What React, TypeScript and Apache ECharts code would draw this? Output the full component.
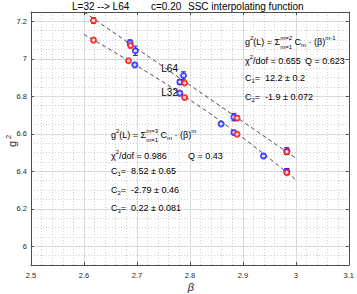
import React, { useEffect, useRef } from 'react';
import * as echarts from 'echarts';

// ---- axes ----
const xMin = 2.5;
const xMax = 3.1;
const yMin = 5.9;
const yMax = 7.25;

// ---- data ----
const redBeta = [2.618, 2.618, 2.688, 2.684, 2.790, 2.790, 2.889, 2.889, 2.983, 2.983];
const redG2 = [7.205, 7.100, 7.071, 6.990, 6.871, 6.794, 6.684, 6.598, 6.504, 6.393];
const redErr = [0.015, 0.008, 0.012, 0.008, 0.008, 0.008, 0.012, 0.008, 0.014, 0.010];

const blueBeta = [2.687, 2.697, 2.696, 2.788, 2.781, 2.781, 2.883, 2.859, 2.883, 2.939, 2.983, 2.983];
const blueG2 = [7.086, 7.043, 6.968, 6.911, 6.876, 6.817, 6.689, 6.653, 6.607, 6.482, 6.508, 6.400];
const blueErr = [0.015, 0.025, 0.006, 0.02, 0.012, 0.006, 0.02, 0.006, 0.006, 0.01, 0.018, 0.015];

const fitL64Beta = [2.6, 3.0];
const fitL64G2 = [7.25, 6.47];
const fitL32Beta = [2.6, 2.69, 2.79, 2.89, 3.0];
const fitL32G2 = [7.13, 6.98, 6.80, 6.60, 6.355];

// ---- texts ----
const titleParts = ['L=32 --> L64', 'c=0.20', 'SSC interpolating function'];
const upperChi = '/dof = 0.655 ';
const upperQ = 'Q = 0.623';
const upperC = ['=  12.2 ± 0.2', '=  -1.9 ± 0.072'];
const lowerChi = '/dof = 0.986';
const lowerQ = 'Q = 0.43';
const lowerC = ['=  8.52 ± 0.65', '=  -2.79 ± 0.46', '=  0.22 ± 0.081'];

const FONT = "'Liberation Sans', Arial, Helvetica, sans-serif";
let measureCtx: CanvasRenderingContext2D | null = null;
function textWidth(t: string, size: number): number {
  if (!measureCtx) measureCtx = document.createElement('canvas').getContext('2d');
  measureCtx!.font = `${size}px ${FONT}`;
  return measureCtx!.measureText(t).width;
}
const nb = (t: string) => t.replace(/ /g, '\u00a0');

function T(x: number, y: number, text: string, size: number, extra: any = {}) {
  return {
    type: 'text',
    x,
    y,
    silent: true,
    z: 100,
    style: {
      text: nb(text),
      fontSize: size,
      fontFamily: FONT,
      fill: '#000',
      textAlign: 'left',
      textVerticalAlign: 'middle',
      ...extra,
    },
  };
}

type Piece = { t?: string; s?: number; dy?: number; stack?: [string, string] };
function buildLine(x0: number, y: number, pieces: Piece[], base = 9) {
  const out: any[] = [];
  let x = x0;
  for (const p of pieces) {
    if (p.stack) {
      const s = p.s ?? 6;
      out.push(T(x, y - 4, p.stack[0], s));
      out.push(T(x, y + 4.5, p.stack[1], s));
      x += Math.max(textWidth(nb(p.stack[0]), s), textWidth(nb(p.stack[1]), s));
    } else {
      const s = p.s ?? base;
      out.push(T(x, y + (p.dy ?? 0), p.t!, s));
      x += textWidth(nb(p.t!), s);
    }
  }
  return out;
}

const SUP = { s: 6, dy: -4 };
const SUB = { s: 6, dy: 3 };

function buildGraphics() {
  const g: any[] = [];
  // title
  g.push(T(72, 6, titleParts[0], 10));
  g.push(T(151, 6, titleParts[1], 10));
  g.push(T(188, 6, titleParts[2], 10));

  // upper block
  const ux = 245;
  g.push(
    ...buildLine(ux, 42, [
      { t: 'g' }, { t: '2', ...SUP }, { t: '(L) = Σ' }, { stack: ['m=2', 'm=1'] },
      { t: ' C' }, { t: 'm', ...SUB }, { t: ' · (β)' }, { t: 'm-1', ...SUP },
    ])
  );
  g.push(...buildLine(ux, 61, [{ t: 'χ' }, { t: '2', ...SUP }, { t: upperChi }]));
  g.push(T(305, 61, upperQ, 9));
  g.push(...buildLine(ux, 78, [{ t: 'C' }, { t: '1', ...SUB }, { t: upperC[0] }]));
  g.push(...buildLine(ux, 97, [{ t: 'C' }, { t: '2', ...SUB }, { t: upperC[1] }]));

  // lower block
  const lx = 111;
  g.push(
    ...buildLine(lx, 135, [
      { t: 'g' }, { t: '2', ...SUP }, { t: '(L) = Σ' }, { stack: ['m=3', 'm=1'] },
      { t: ' C' }, { t: 'm', ...SUB }, { t: ' · (β)' }, { t: 'm', ...SUP },
    ])
  );
  g.push(...buildLine(lx, 155.5, [{ t: 'χ' }, { t: '2', ...SUP }, { t: lowerChi }]));
  g.push(T(188, 155.5, lowerQ, 9));
  g.push(...buildLine(lx, 171, [{ t: 'C' }, { t: '1', ...SUB }, { t: lowerC[0] }]));
  g.push(...buildLine(lx, 189.5, [{ t: 'C' }, { t: '2', ...SUB }, { t: lowerC[1] }]));
  g.push(...buildLine(lx, 208, [{ t: 'C' }, { t: '3', ...SUB }, { t: lowerC[2] }]));

  // curve labels
  g.push(T(178, 68, 'L64', 10, { textAlign: 'right' }));
  g.push(T(178, 92, 'L32', 10, { textAlign: 'right' }));

  // axis names
  g.push({
    type: 'group',
    x: 12,
    y: 140,
    rotation: Math.PI / 2,
    z: 100,
    children: [
      { type: 'text', x: -4, y: 0, style: { text: 'g', fontSize: 11, fontFamily: FONT, fill: '#262626', textAlign: 'center', textVerticalAlign: 'middle' } },
      { type: 'text', x: 1, y: -4, style: { text: '2', fontSize: 7.5, fontFamily: FONT, fill: '#262626', textAlign: 'left', textVerticalAlign: 'middle' } },
    ],
  });
  g.push(T(191, 287, 'β', 11, { textAlign: 'center', fontStyle: 'italic', fill: '#262626' }));
  return g;
}

function errorSeries(name: string, beta: number[], val: number[], err: number[], color: string) {
  return {
    name,
    type: 'custom',
    xAxisIndex: 0,
    yAxisIndex: 0,
    data: beta.map((b, i) => [b, val[i] - err[i], val[i] + err[i]]),
    encode: { x: 0, y: [1, 2] },
    z: 5,
    renderItem: (params: any, api: any) => {
      const x = api.value(0);
      const p1 = api.coord([x, api.value(1)]);
      const p2 = api.coord([x, api.value(2)]);
      const cw = 2.5;
      const st = { stroke: color, lineWidth: 1 };
      return {
        type: 'group',
        children: [
          { type: 'line', shape: { x1: p1[0], y1: p1[1], x2: p2[0], y2: p2[1] }, style: st },
          { type: 'line', shape: { x1: p1[0] - cw, y1: p1[1], x2: p1[0] + cw, y2: p1[1] }, style: st },
          { type: 'line', shape: { x1: p2[0] - cw, y1: p2[1], x2: p2[0] + cw, y2: p2[1] }, style: st },
        ],
      };
    },
  };
}

function scatterSeries(name: string, beta: number[], val: number[], color: string) {
  return {
    name,
    type: 'scatter',
    xAxisIndex: 0,
    yAxisIndex: 0,
    data: beta.map((b, i) => [b, val[i]]),
    symbol: 'emptyCircle',
    symbolSize: 5,
    z: 6,
    itemStyle: { color, borderColor: color, borderWidth: 1.5 },
  };
}

const AX = '#4d4d4d';
const LBL = '#262626';

export default function App() {
  const ref = useRef<HTMLDivElement>(null);
  useEffect(() => {
    if (!ref.current) return;
    const chart = echarts.init(ref.current, undefined, { renderer: 'svg' });
    const option: any = {
      animation: false,
      backgroundColor: '#fff',
      grid: { left: 31, right: 6, top: 12, bottom: 29, containLabel: false },
      xAxis: [
        {
          type: 'value', min: xMin, max: xMax, interval: 0.1, position: 'bottom',
          axisLine: { show: true, onZero: false, lineStyle: { color: AX, width: 1 } },
          axisTick: { show: true, inside: true, length: 3, lineStyle: { color: AX } },
          axisLabel: { fontSize: 7.5, color: LBL, margin: 6, fontFamily: FONT },
          splitLine: { show: true, lineStyle: { color: '#e3e3e3', width: 1 } },
        },
        {
          type: 'value', min: xMin, max: xMax, interval: 0.1, position: 'top',
          axisLine: { show: true, onZero: false, lineStyle: { color: AX, width: 1 } },
          axisTick: { show: true, inside: true, length: 3, lineStyle: { color: AX } },
          axisLabel: { show: false },
          splitLine: { show: false },
        },
        {
          type: 'value', min: xMin, max: xMax, interval: 0.02, position: 'bottom',
          axisLine: { show: false }, axisTick: { show: false }, axisLabel: { show: false },
          splitLine: { show: true, lineStyle: { color: '#c4c4c4', width: 0.8, type: [1, 2] } },
        },
      ],
      yAxis: [
        {
          type: 'value', min: yMin, max: yMax, splitNumber: 7, position: 'left',
          axisLine: { show: true, onZero: false, lineStyle: { color: AX, width: 1 } },
          axisTick: { show: true, inside: true, length: 3, lineStyle: { color: AX } },
          axisLabel: { fontSize: 7.5, color: LBL, margin: 4, fontFamily: FONT, showMinLabel: false, showMaxLabel: false },
          splitLine: { show: true, lineStyle: { color: '#e3e3e3', width: 1 } },
        },
        {
          type: 'value', min: yMin, max: yMax, splitNumber: 7, position: 'right',
          axisLine: { show: true, onZero: false, lineStyle: { color: AX, width: 1 } },
          axisTick: { show: true, inside: true, length: 3, lineStyle: { color: AX } },
          axisLabel: { show: false },
          splitLine: { show: false },
        },
        {
          type: 'value', min: yMin, max: yMax, interval: 0.05, position: 'right',
          axisLine: { show: false }, axisTick: { show: false }, axisLabel: { show: false },
          splitLine: { show: true, lineStyle: { color: '#c4c4c4', width: 0.8, type: [1, 2] } },
        },
      ],
      series: [
        {
          name: 'fit L64', type: 'line', xAxisIndex: 0, yAxisIndex: 0, z: 3,
          data: fitL64Beta.map((b, i) => [b, fitL64G2[i]]),
          symbol: 'none', smooth: false,
          lineStyle: { color: '#222', width: 0.8, type: [4, 3] },
        },
        {
          name: 'fit L32', type: 'line', xAxisIndex: 0, yAxisIndex: 0, z: 3,
          data: fitL32Beta.map((b, i) => [b, fitL32G2[i]]),
          symbol: 'none', smooth: true,
          lineStyle: { color: '#222', width: 0.8, type: [4, 3] },
        },
        errorSeries('blue err', blueBeta, blueG2, blueErr, '#2020ff'),
        scatterSeries('blue', blueBeta, blueG2, '#2020ff'),
        errorSeries('red err', redBeta, redG2, redErr, '#ff1010'),
        scatterSeries('red', redBeta, redG2, '#ff1010'),
      ],
      graphic: buildGraphics(),
    };
    chart.setOption(option);
    return () => chart.dispose();
  }, []);
  return <div ref={ref} style={{ position: 'fixed', left: 0, top: 0, width: 357, height: 294 }} />;
}
